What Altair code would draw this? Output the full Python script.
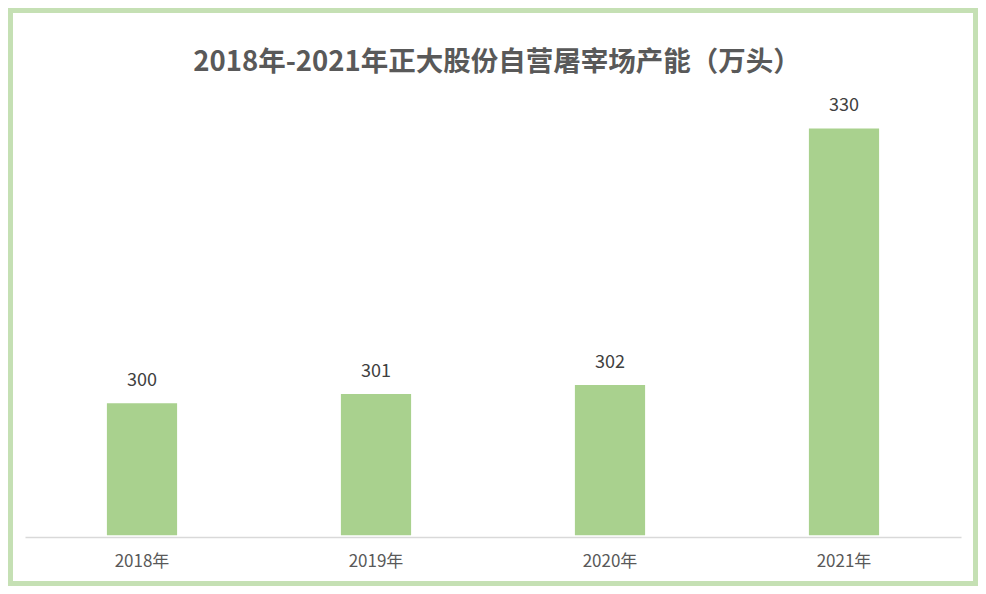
import altair as alt
import pandas as pd

years = ["2018年", "2019年", "2020年", "2021年"]
capacity = [300, 301, 302, 330]
axis_min = 285.6
title_text = "2018年-2021年正大股份自营屠宰场产能（万头）"

df = pd.DataFrame({"year": years, "value": capacity, "base": [axis_min] * len(years)})

FONT = "Noto Sans CJK SC"

x_enc = alt.X(
    "year:N",
    sort=years,
    title=None,
    scale=alt.Scale(range=[12, 948], paddingInner=0.7, paddingOuter=0.35),
    axis=alt.Axis(
        orient="bottom",
        offset=-44,
        labelAngle=0,
        labelFont=FONT,
        labelFontSize=17,
        labelColor="#595959",
        labelPadding=16,
        ticks=False,
        domainColor="#d9d9d9",
        domainWidth=1.5,
        grid=False,
    ),
)
y_scale = alt.Scale(domain=[280.6, 342.6], zero=False, nice=False)

bars = alt.Chart(df).mark_bar(color="#a9d18e").encode(
    x=x_enc,
    y=alt.Y("value:Q", scale=y_scale, axis=None),
    y2="base:Q",
)

labels = alt.Chart(df).mark_text(
    font=FONT, fontSize=18, color="#404040", baseline="alphabetic", dy=-17
).encode(
    x=alt.X("year:N", sort=years),
    y=alt.Y("value:Q", scale=y_scale),
    text=alt.Text("value:Q"),
)

title = alt.Chart(alt.Data(values=[{"t": title_text}])).mark_text(
    font=FONT, fontSize=27.5, fontWeight=600, color="#595959", baseline="middle", align="center"
).encode(
    x=alt.value(484),
    y=alt.value(50),
    text="t:N",
)

chart = (
    alt.layer(bars, labels, title)
    .properties(width=960, height=568, padding=5, background="#c5e0b4")
    .configure_view(fill="white", stroke=None)
)

chart.save("out.html", embed_options={"renderer": "svg", "actions": False})
